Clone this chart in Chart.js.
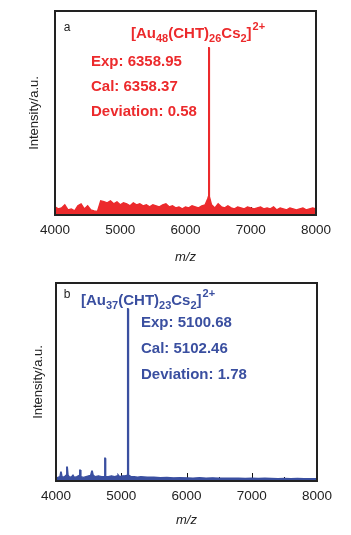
<!DOCTYPE html>
<html>
<head>
<meta charset="utf-8">
<script src="https://cdn.jsdelivr.net/npm/chart.js@4"></script>
<style>
  body { margin: 0; background: #fff; }
  .panel { position: relative; width: 351px; }
  #p1 { height: 268px; }
  #p2 { height: 267px; }
</style>
</head>
<body>
<div class="panel" id="p1"><canvas id="chartA"></canvas></div>
<div class="panel" id="p2"><canvas id="chartB"></canvas></div>
<script>
// panel a spectrum (m/z, relative intensity)
const mzA = [4000, 4050, 4100, 4150, 4200, 4250, 4300, 4350, 4400, 4450, 4500, 4550, 4600, 4650,
  4700, 4750, 4800, 4850, 4900, 4950, 5000, 5050, 5100, 5150, 5200, 5250, 5300, 5350, 5400, 5450,
  5500, 5550, 5600, 5650, 5700, 5750, 5800, 5850, 5900, 5950, 6000, 6050, 6100, 6150, 6200, 6250,
  6300, 6340, 6350, 6355, 6362, 6367, 6400, 6450, 6500, 6550, 6600, 6650, 6700, 6750, 6800, 6850, 6900,
  6950, 7000, 7050, 7100, 7150, 7200, 7250, 7300, 7350, 7400, 7450, 7500, 7550, 7600, 7650, 7700,
  7750, 7800, 7850, 7900, 7950, 8000];
const intA = [0.04, 0.03, 0.035, 0.05, 0.025, 0.03, 0.02, 0.045, 0.055, 0.03, 0.045, 0.025, 0.02, 0.018,
  0.07, 0.065, 0.06, 0.07, 0.055, 0.065, 0.05, 0.06, 0.055, 0.045, 0.06, 0.05, 0.055, 0.045, 0.05, 0.04,
  0.05, 0.045, 0.04, 0.05, 0.055, 0.04, 0.045, 0.035, 0.04, 0.03, 0.04, 0.035, 0.045, 0.04, 0.035, 0.045,
  0.05, 0.08, 0.09, 0.82, 0.82, 0.09, 0.05, 0.035, 0.055, 0.04, 0.035, 0.045, 0.035, 0.03, 0.04, 0.035, 0.03,
  0.04, 0.035, 0.03, 0.035, 0.04, 0.03, 0.035, 0.03, 0.04, 0.025, 0.035, 0.03, 0.025, 0.035, 0.03, 0.025,
  0.03, 0.035, 0.025, 0.03, 0.035, 0.03];

// panel b spectrum
const mzB = [4000, 4030, 4060, 4072, 4080, 4095, 4130, 4155, 4164, 4174, 4185, 4210, 4240, 4260, 4280, 4320,
  4355, 4363, 4373, 4382, 4420, 4460, 4500, 4530, 4547, 4557, 4570, 4600, 4650, 4700, 4740, 4747, 4755, 4762, 4800,
  4850, 4900, 4935, 4950, 4975, 5020, 5060, 5090, 5097, 5104, 5112, 5150, 5200, 5250, 5300, 5400, 5500,
  5600, 5700, 5800, 5900, 6000, 6100, 6200, 6300, 6400, 6500, 6600, 6700, 6800, 6900, 7000, 7100,
  7200, 7300, 7400, 7500, 7600, 7700, 7800, 7900, 8000];
const intB = [0.012, 0.018, 0.022, 0.045, 0.045, 0.018, 0.022, 0.03, 0.07, 0.07, 0.03, 0.018, 0.022, 0.03, 0.018, 0.022,
  0.028, 0.055, 0.055, 0.022, 0.018, 0.022, 0.026, 0.028, 0.05, 0.05, 0.03, 0.022, 0.026, 0.022, 0.022, 0.115, 0.115, 0.022, 0.022,
  0.026, 0.022, 0.026, 0.032, 0.022, 0.026, 0.026, 0.03, 0.87, 0.87, 0.03, 0.022, 0.022, 0.02, 0.022, 0.019, 0.02,
  0.017, 0.018, 0.016, 0.017, 0.016, 0.015, 0.017, 0.015, 0.016, 0.014, 0.015, 0.014, 0.015, 0.013, 0.014, 0.013,
  0.014, 0.013, 0.012, 0.013, 0.012, 0.013, 0.012, 0.012, 0.012];

const xTicks = [4000, 5000, 6000, 7000, 8000];

const RED = '#ec2a2c';
const BLUE = '#3a4fa0';

// text pieces: [text, mode] mode: n normal, sub, sup
const labelA = [['[Au', 'n'], ['48', 'sub'], ['(CHT)', 'n'], ['26', 'sub'], ['Cs', 'n'], ['2', 'sub'], [']', 'n'], ['2+', 'sup']];
const labelB = [['[Au', 'n'], ['37', 'sub'], ['(CHT)', 'n'], ['23', 'sub'], ['Cs', 'n'], ['2', 'sub'], [']', 'n'], ['2+', 'sup']];
const infoA = ['Exp: 6358.95', 'Cal: 6358.37', 'Deviation: 0.58'];
const infoB = ['Exp: 5100.68', 'Cal: 5102.46', 'Deviation: 1.78'];

const FONT = '"Liberation Sans", Arial, sans-serif';

const framePlugin = {
  id: 'frame',
  beforeDatasetsDraw(chart) {
    const { ctx, chartArea: a } = chart;
    const x = chart.scales.x;
    ctx.save();
    ctx.strokeStyle = '#111';
    ctx.lineWidth = 1;
    for (let v = 4500; v < 8000; v += 500) {
      const px = Math.round(x.getPixelForValue(v)) + 0.5;
      const len = v % 1000 === 0 ? 8 : 4;
      ctx.beginPath();
      ctx.moveTo(px, a.bottom);
      ctx.lineTo(px, a.bottom - len);
      ctx.stroke();
    }
    ctx.restore();
  },
  afterDatasetsDraw(chart, args, opts) {
    const { ctx, chartArea: a } = chart;
    const x = chart.scales.x, y = chart.scales.y;
    ctx.save();
    ctx.strokeStyle = '#222';
    ctx.lineWidth = 2;
    ctx.strokeRect(a.left, a.top, a.right - a.left, a.bottom - a.top);

    // panel letter
    ctx.fillStyle = '#222';
    ctx.font = '12px ' + FONT;
    ctx.textAlign = 'center';
    ctx.textBaseline = 'middle';
    ctx.fillText(opts.letter, x.getPixelForValue(opts.letterPos[0]), y.getPixelForValue(opts.letterPos[1]));

    // formula label
    ctx.fillStyle = opts.color;
    ctx.textAlign = 'left';
    ctx.textBaseline = 'alphabetic';
    let px = x.getPixelForValue(opts.labelPos[0]);
    const base = y.getPixelForValue(opts.labelPos[1]) + 5;
    opts.label.forEach(([t, m]) => {
      if (m === 'n') {
        ctx.font = 'bold 15px ' + FONT;
        ctx.fillText(t, px, base);
      } else if (m === 'sub') {
        ctx.font = 'bold 11px ' + FONT;
        ctx.fillText(t, px, base + 4);
      } else {
        ctx.font = 'bold 11px ' + FONT;
        ctx.fillText(t, px + 1, base - 8);
      }
      px += ctx.measureText(t).width;
    });

    // info lines
    ctx.font = 'bold 15px ' + FONT;
    ctx.textBaseline = 'middle';
    opts.info.forEach((t, i) => {
      ctx.fillText(t, x.getPixelForValue(opts.infoPos[0]), y.getPixelForValue(opts.infoPos[1 + i]));
    });
    ctx.restore();
  }
};

function makeChart(id, mz, vals, color, leftW, bottomH, titlePad, topPad, rightPad, yTitlePad, frameOpts) {
  return new Chart(document.getElementById(id), {
    type: 'line',
    data: {
      datasets: [{
        data: mz.map((m, i) => ({ x: m, y: vals[i] })),
        borderColor: color,
        backgroundColor: color,
        borderWidth: 1.3,
        pointRadius: 0,
        tension: 0,
        fill: 'origin'
      }]
    },
    options: {
      responsive: true,
      maintainAspectRatio: false,
      animation: false,
      layout: { padding: { top: topPad, right: rightPad, left: 0, bottom: 0 } },
      plugins: {
        legend: { display: false },
        tooltip: { enabled: false },
        frame: frameOpts
      },
      scales: {
        x: {
          type: 'linear',
          min: 4000,
          max: 8000,
          afterBuildTicks(scale) { scale.ticks = xTicks.map(v => ({ value: v })); },
          afterFit(scale) { scale.height = bottomH; },
          grid: { display: false, drawTicks: false },
          border: { display: false },
          ticks: {
            color: '#222', padding: 7, maxRotation: 0,
            font: { family: FONT, size: 13.5 },
            callback: v => String(v)
          },
          title: {
            display: true,
            text: 'm/z',
            color: '#222',
            padding: { top: 0, bottom: titlePad },
            font: { family: FONT, size: 13, style: 'italic' }
          }
        },
        y: {
          min: 0,
          max: 1,
          afterFit(scale) { scale.width = leftW; },
          grid: { display: false, drawTicks: false },
          border: { display: false },
          ticks: { display: false },
          title: {
            display: true,
            text: 'Intensity/a.u.',
            color: '#222',
            padding: { top: yTitlePad, bottom: 0 },
            font: { family: FONT, size: 13 }
          }
        }
      }
    },
    plugins: [framePlugin]
  });
}

makeChart('chartA', mzA, intA, RED, 55, 53, 3, 11, 35, 27, {
  color: RED, letter: 'a', letterPos: [4184, 0.917],
  label: labelA, labelPos: [5165, 0.89],
  info: infoA, infoPos: [4552, 0.75, 0.627, 0.505]
});
makeChart('chartB', mzB, intB, BLUE, 56, 54, 7, 15, 34, 31, {
  color: BLUE, letter: 'b', letterPos: [4169, 0.94],
  label: labelB, labelPos: [4383, 0.914],
  info: infoB, infoPos: [5303, 0.798, 0.667, 0.535]
});
</script>
</body>
</html>
